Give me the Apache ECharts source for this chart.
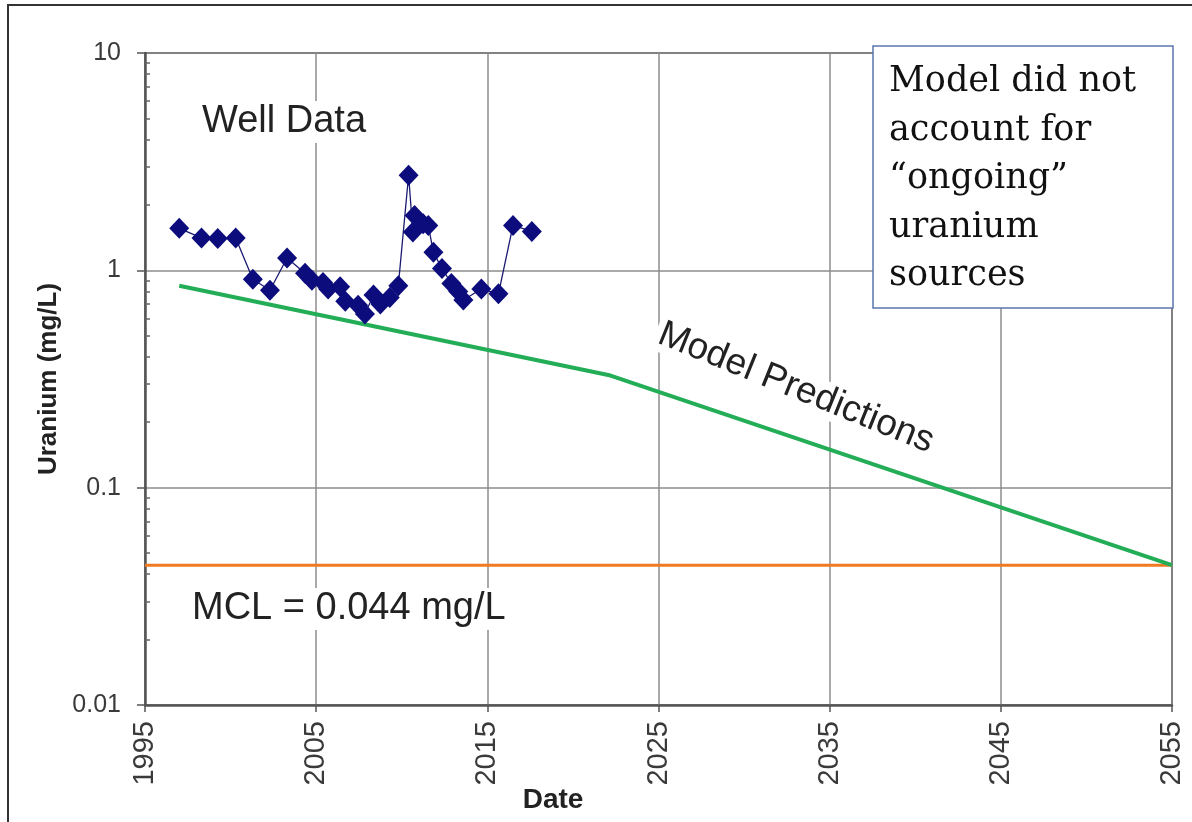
<!DOCTYPE html>
<html>
<head>
<meta charset="utf-8">
<script src="https://cdn.jsdelivr.net/npm/echarts@6/dist/echarts.min.js"></script>
<style>
html, body { margin: 0; padding: 0; background: #fff; }
#chart { width: 1192px; height: 822px; }
</style>
</head>
<body>
<div id="chart"></div>
<script>
// well measurements (year, mg/L)
var wellYears = [1997.0, 1998.3, 1999.25, 2000.3, 2001.3, 2002.3, 2003.3, 2004.35, 2004.75, 2005.4,
  2005.7, 2006.4, 2006.7, 2007.45, 2007.85, 2008.35, 2008.75, 2009.3, 2009.8, 2010.4,
  2010.65, 2010.75, 2011.25, 2011.55, 2011.85, 2012.35, 2012.9, 2013.3, 2013.6, 2014.65,
  2015.65, 2016.5, 2017.6];
var wellValues = [1.56, 1.41, 1.40, 1.41, 0.91, 0.81, 1.14, 0.97, 0.90, 0.88,
  0.82, 0.84, 0.72, 0.69, 0.63, 0.77, 0.70, 0.75, 0.85, 2.74,
  1.50, 1.79, 1.64, 1.61, 1.21, 1.02, 0.87, 0.80, 0.73, 0.82,
  0.78, 1.61, 1.51];

// model prediction
var modelYears = [1997.0, 2022.2, 2055];
var modelValues = [0.85, 0.328, 0.044];

// MCL
var mclYears = [1995, 2055];
var mclValues = [0.044, 0.044];

// log minor ticks
var yMinorTicks = [0.02, 0.03, 0.04, 0.05, 0.06, 0.07, 0.08, 0.09,
  0.2, 0.3, 0.4, 0.5, 0.6, 0.7, 0.8, 0.9,
  2, 3, 4, 5, 6, 7, 8, 9];

function pairs(xs, ys) {
  return xs.map(function (x, i) { return [x, ys[i]]; });
}

var chart = echarts.init(document.getElementById('chart'));

chart.setOption({
  animation: false,
  backgroundColor: '#fff',
  grid: {
    left: 145, right: 20, top: 53, bottom: 117,
    show: true, borderColor: '#666', borderWidth: 2
  },
  xAxis: {
    type: 'value',
    min: 1995, max: 2055, interval: 10,
    axisLine: { lineStyle: { color: '#555', width: 2.5 } },
    axisTick: { length: 7, lineStyle: { color: '#555', width: 1.5 } },
    axisLabel: {
      rotate: 90, margin: 16,
      formatter: function (v) { return String(v); },
      color: '#3a3a3a', fontSize: 29, fontFamily: 'Liberation Sans, Arial, sans-serif'
    },
    splitLine: { show: true, lineStyle: { color: '#8c8c8c', width: 1.5 } }
  },
  yAxis: [{
    type: 'log',
    logBase: 10,
    min: 0.01, max: 10,
    name: 'Uranium (mg/L)',
    nameLocation: 'middle',
    nameGap: 80,
    nameTextStyle: {
      color: '#222', fontSize: 26, fontWeight: 'bold',
      fontFamily: 'Liberation Sans, Arial, sans-serif'
    },
    axisLine: { show: true, lineStyle: { color: '#555', width: 2.5 } },
    axisTick: { show: true, length: 8, lineStyle: { color: '#555', width: 1.5 } },
    axisLabel: {
      margin: 24,
      color: '#3a3a3a', fontSize: 25, fontFamily: 'Liberation Sans, Arial, sans-serif'
    },
    splitLine: { show: true, lineStyle: { color: '#8c8c8c', width: 1.5 } }
  }, {
    type: 'log',
    logBase: 10,
    min: 0.01, max: 10,
    position: 'left',
    axisLine: { show: false },
    axisLabel: { show: false },
    splitLine: { show: false },
    axisTick: {
      show: true, inside: true, length: 5,
      customValues: yMinorTicks,
      lineStyle: { color: '#666', width: 1.5 }
    }
  }],
  series: [{
    name: 'MCL',
    type: 'line',
    data: pairs(mclYears, mclValues),
    symbol: 'none',
    lineStyle: { color: '#f07a22', width: 3 },
    z: 3
  }, {
    name: 'Model Predictions',
    type: 'line',
    data: pairs(modelYears, modelValues),
    symbol: 'none',
    lineStyle: { color: '#23ad57', width: 4 },
    z: 4
  }, {
    name: 'Well Data',
    type: 'line',
    data: pairs(wellYears, wellValues),
    symbol: 'diamond',
    symbolSize: [20, 21],
    itemStyle: { color: '#0c0c7c' },
    lineStyle: { color: '#1a1a70', width: 1.3 },
    z: 5
  }],
  graphic: [
    // outer frame
    {
      type: 'rect', z: 0, silent: true,
      shape: { x: 8, y: 5, width: 1200, height: 840 },
      style: { fill: null, stroke: '#333', lineWidth: 2 }
    },
    {
      type: 'text', z: 1, left: 198, top: 101,
      style: {
        text: 'Well Data', fill: '#222', fontSize: 38,
        fontFamily: 'Liberation Sans, Arial, sans-serif',
        backgroundColor: '#fff', padding: [2, 4]
      }
    },
    {
      type: 'text', z: 1, left: 188, top: 588,
      style: {
        text: 'MCL = 0.044 mg/L', fill: '#222', fontSize: 38,
        fontFamily: 'Liberation Sans, Arial, sans-serif',
        backgroundColor: '#fff', padding: [2, 4]
      }
    },
    {
      type: 'text', z: 1, x: 796, y: 388, rotation: -0.385,
      style: {
        text: 'Model Predictions', fill: '#222', fontSize: 37,
        fontFamily: 'Liberation Sans, Arial, sans-serif',
        align: 'center', verticalAlign: 'middle',
        backgroundColor: '#fff', padding: [0, 4]
      }
    },
    // note box
    {
      type: 'rect', z: 10,
      shape: { x: 873, y: 46, width: 300, height: 262 },
      style: { fill: '#fff', stroke: '#5b76b0', lineWidth: 1.5 }
    },
    {
      type: 'text', z: 11, x: 889, y: 58,
      style: {
        text: 'Model did not\naccount for\n\u201congoing\u201d\nuranium\nsources',
        fill: '#111', fontSize: 35, lineHeight: 48.5,
        fontFamily: 'DejaVu Serif, serif',
        verticalAlign: 'top'
      }
    },
    {
      type: 'text', z: 1, x: 553, y: 800,
      style: {
        text: 'Date', fill: '#222', fontSize: 28, fontWeight: 'bold',
        fontFamily: 'Liberation Sans, Arial, sans-serif',
        align: 'center', verticalAlign: 'middle'
      }
    }
  ]
});
</script>
</body>
</html>
